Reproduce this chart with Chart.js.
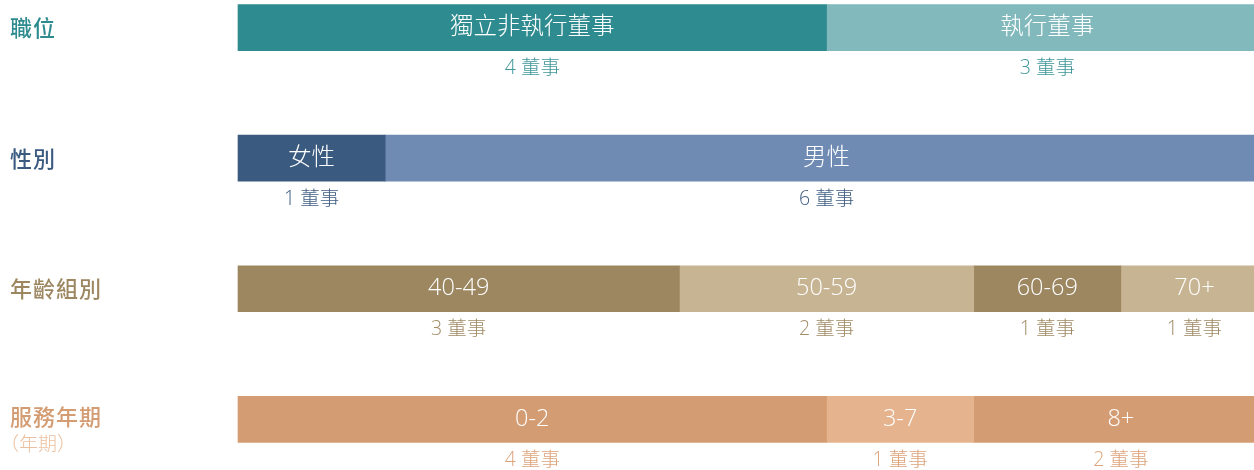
<!DOCTYPE html>
<html>
<head>
<meta charset="utf-8">
<script src="https://cdn.jsdelivr.net/npm/chart.js@4/dist/chart.umd.min.js"></script>
<style>
  html, body { margin: 0; padding: 0; background: #fff; overflow: hidden; }
  #wrap { position: relative; width: 1268px; height: 470px; }
</style>
</head>
<body>
<div id="wrap"><canvas id="c"></canvas></div>
<script>
// ---- data ----
const rowTitles = ['職位', '性別', '年齡組別', '服務年期'];
const rowSubtitles = ['', '', '', '（年期）'];
const roleLabels = ['獨立非執行董事', '執行董事'];
const roleCounts = [4, 3];
const genderLabels = ['女性', '男性'];
const genderCounts = [1, 6];
const ageLabels = ['40-49', '50-59', '60-69', '70+'];
const ageCounts = [3, 2, 1, 1];
const tenureLabels = ['0-2', '3-7', '8+'];
const tenureCounts = [4, 1, 2];
const countSuffix = ' 董事';

// ---- styles ----
const rowDark  = ['#2E8B8F', '#3A5A7F', '#9C8761', '#D49C72'];
const rowLight = ['#82B9BC', '#6F8BB3', '#C7B493', '#E5B48E'];
const rowText  = ['#3F9699', '#3E5D82', '#A08B66', '#DDA47B'];
const subText  = ['#3A9396', '#3E5D82', '#A08B66', '#EBC0A0'];

const rowsLabels = [roleLabels, genderLabels, ageLabels, tenureLabels];
const rowsCounts = [roleCounts, genderCounts, ageCounts, tenureCounts];
const maxSegs = Math.max(...rowsCounts.map(r => r.length));

const datasets = [];
for (let s = 0; s < maxSegs; s++) {
  datasets.push({
    data: rowsCounts.map(r => (s < r.length ? r[s] : null)),
    segLabels: rowsLabels.map(r => (s < r.length ? r[s] : null)),
    backgroundColor: rowTitles.map((_, i) => (s % 2 === 0 ? rowDark[i] : rowLight[i])),
    borderWidth: 0,
    barThickness: 46,
    clip: false
  });
}

const LATIN_CJK = '"Open Sans", "Noto Sans CJK TC", sans-serif';

const labelPlugin = {
  id: 'labels',
  afterDatasetsDraw(chart) {
    const ctx = chart.ctx;
    ctx.save();
    ctx.textBaseline = 'middle';
    chart.data.datasets.forEach((ds, di) => {
      const meta = chart.getDatasetMeta(di);
      meta.data.forEach((el, ri) => {
        if (ds.data[ri] == null) return;
        const cx = (el.x + el.base) / 2;
        ctx.textAlign = 'center';
        ctx.fillStyle = '#ffffff';
        ctx.font = '300 23.5px ' + LATIN_CJK;
        ctx.fillText(ds.segLabels[ri], cx, el.y);
        ctx.fillStyle = rowText[ri];
        ctx.font = '300 19.5px ' + LATIN_CJK;
        ctx.fillText(ds.data[ri] + countSuffix, cx, el.y + 41);
      });
    });
    const meta0 = chart.getDatasetMeta(0);
    rowTitles.forEach((t, ri) => {
      const y = meta0.data[ri].y;
      const hasSub = rowSubtitles[ri] !== '';
      ctx.textAlign = 'left';
      ctx.fillStyle = rowDark[ri];
      ctx.font = '500 22px "Noto Sans CJK TC", sans-serif';
      ctx.letterSpacing = '1px';
      ctx.fillText(t, 10, y + (hasSub ? -3 : 0));
      if (hasSub) {
        ctx.fillStyle = subText[ri];
        ctx.font = '300 19px "Noto Sans CJK TC", sans-serif';
        ctx.letterSpacing = '0px';
        ctx.fillText(rowSubtitles[ri], 0, y + 24);
      }
      ctx.letterSpacing = '0px';
    });
    ctx.restore();
  }
};

new Chart(document.getElementById('c'), {
  type: 'bar',
  data: { labels: rowTitles, datasets },
  options: {
    indexAxis: 'y',
    responsive: true,
    maintainAspectRatio: false,
    animation: false,
    layout: { padding: { left: 238, right: 0, top: 27.6, bottom: 50.7 } },
    scales: {
      x: { stacked: true, display: false, min: 0, max: 7 },
      y: { stacked: true, display: false, offset: false }
    },
    plugins: { legend: { display: false }, tooltip: { enabled: false } }
  },
  plugins: [labelPlugin]
});
</script>
</body>
</html>
